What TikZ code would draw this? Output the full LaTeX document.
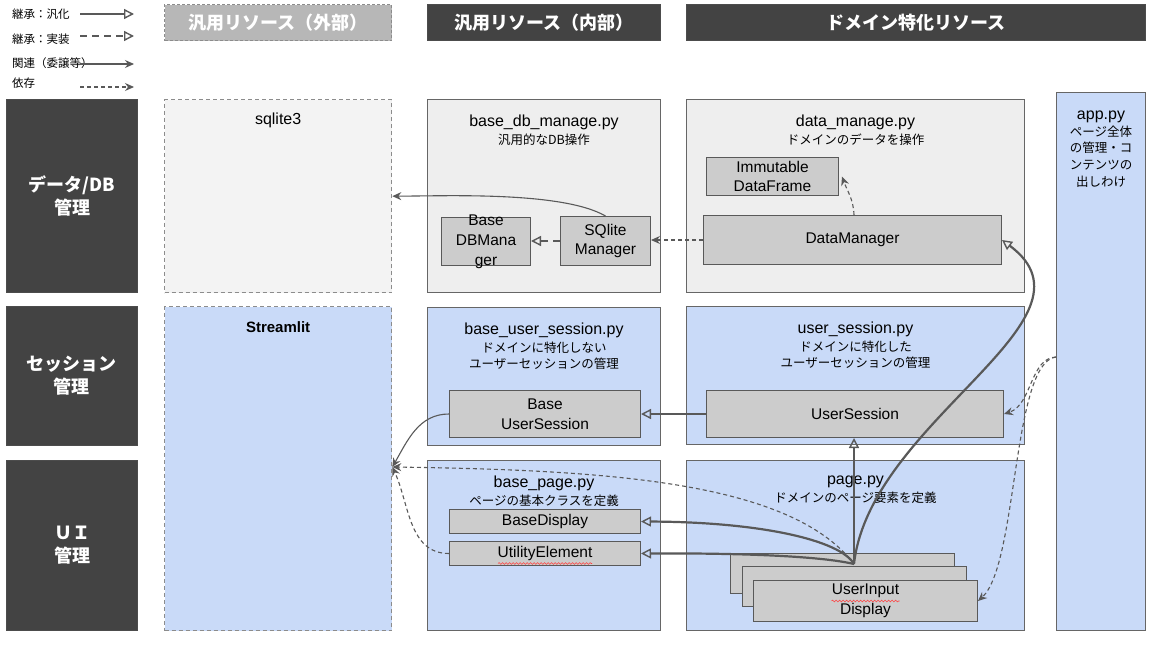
\documentclass[tikz,border=0pt]{standalone}
\usepackage{fontspec}
\setmainfont{Liberation Sans}
\newfontfamily\jp{Noto Sans CJK JP}
\usetikzlibrary{positioning,arrows.meta,decorations.pathmorphing}
\definecolor{darkhd}{HTML}{434343}
\definecolor{exthd}{HTML}{B7B7B7}
\definecolor{extline}{HTML}{8C8C8C}
\definecolor{extfill}{HTML}{F3F3F3}
\definecolor{pkgfill}{HTML}{EEEEEE}
\definecolor{uiblue}{HTML}{C9DAF8}
\definecolor{clsfill}{HTML}{CCCCCC}
\definecolor{boxline}{HTML}{666666}
\definecolor{wire}{HTML}{595959}
\tikzset{%
  box/.style={anchor=north west, inner sep=0pt, line width=1pt, draw=boxline},
  ext/.style={box, draw=extline, dash pattern=on 4pt off 3pt, line width=1.3pt},
  hd/.style={box, fill=darkhd, draw=gray!60!black, text=white, align=center,
    font=\jp\bfseries\fontsize{18}{23}\selectfont},
  cls/.style={box, fill=clsfill, draw=wire, align=center, inner sep=1pt,
    font=\fontsize{15.5}{19.5}\selectfont},
  clstxt/.style={align=center, inner sep=0pt, font=\fontsize{15.5}{20}\selectfont},
  ttl/.style={inner sep=0pt, font=\fontsize{16}{19}\selectfont},
  sub/.style={inner sep=0pt, align=center, font=\jp\fontsize{12.5}{16.5}\selectfont},
  gen/.style={draw=wire, line width=2.2pt,
    -{Triangle[open,length=10pt,width=10pt,line width=1.4pt]}},
  impl/.style={gen, dash pattern=on 7pt off 5pt},
  assoc/.style={draw=wire, line width=1.1pt, -{Stealth[length=9pt,width=8pt,inset=3pt]}},
  dep/.style={assoc, dash pattern=on 4pt off 3pt},
  squig/.style={draw=red!75, line width=.6pt, decorate,
    decoration={snake, amplitude=.9pt, segment length=3.5pt}},
}
\begin{document}
\begin{tikzpicture}[x=1pt,y=-1pt]
\fill[white] (0,0) rectangle (1160,645);
\useasboundingbox (0,0) rectangle (1160,645);
% legend
\foreach \k/\ty/\ay/\t in {gen/14/14/継承：汎化, impl/39/36/継承：実装,
  assoc/63/64/関連（委譲等）, dep/83/87/依存}{
  \node[anchor=west, inner sep=0pt, font=\jp\fontsize{11.5}{13}\selectfont] (lg-\k) at (12,\ty) {\t};
  \coordinate (lg-\k-a) at (80,\ay);
  \coordinate (lg-\k-b) at (134,\ay);
  \draw[\k] (lg-\k-a) -- (lg-\k-b);
}
% column and row headers
\node[hd, fill=exthd, draw=extline, dash pattern=on 3pt off 2pt, minimum width=227, minimum height=36] (colExt) at (164,4) {汎用リソース（外部）};
\node[hd, minimum width=233, minimum height=36] (colInt) at (427,4) {汎用リソース（内部）};
\node[hd, minimum width=459, minimum height=36] (colDom) at (686,4) {ドメイン特化リソース};
\node[hd, minimum width=131, minimum height=193] (rowDB) at (6,99) {データ/DB\\管理};
\node[hd, minimum width=131, minimum height=139] (rowSes) at (6,306) {セッション\\管理};
\node[hd, minimum width=131, minimum height=170] (rowUI) at (6,460) {ＵＩ\\管理};
% containers
\node[ext, fill=extfill, minimum width=227, minimum height=193] (extDB) at (164,99) {};
\node[ext, fill=uiblue, minimum width=227, minimum height=324] (extST) at (164,306) {};
\node[box, fill=pkgfill, minimum width=233, minimum height=193] (pkgBaseDB) at (427,99) {};
\node[box, fill=pkgfill, minimum width=338, minimum height=193] (pkgData) at (686,99) {};
\node[box, fill=uiblue, minimum width=233, minimum height=138] (pkgBaseSes) at (427,307) {};
\node[box, fill=uiblue, minimum width=338, minimum height=138] (pkgSes) at (686,306) {};
\node[box, fill=uiblue, minimum width=233, minimum height=170] (pkgBasePage) at (427,460) {};
\node[box, fill=uiblue, minimum width=338, minimum height=170] (pkgPage) at (686,460) {};
\node[box, fill=uiblue, minimum width=89, minimum height=538] (pkgApp) at (1056,92) {};
% titles
\node[ttl, below=14pt of extDB.north] (extDB-t) {sqlite3};
\node[ttl, font=\bfseries\fontsize{15}{18}\selectfont, below=15pt of extST.north] (extST-t) {Streamlit};
\foreach \p/\m/\s in {pkgBaseDB/base\_db\_manage.py/汎用的なDB操作,
  pkgData/data\_manage.py/ドメインのデータを操作,
  pkgBaseSes/base\_user\_session.py/ドメインに特化しない\\ユーザーセッションの管理,
  pkgSes/user\_session.py/ドメインに特化した\\ユーザーセッションの管理,
  pkgBasePage/base\_page.py/ページの基本クラスを定義,
  pkgPage/page.py/ドメインのページ要素を定義}{
  \node[ttl, below=16pt of \p.north] (\p-t) {\m};
  \node[sub, below=3pt of \p-t] (\p-s) {\s};
}
\node[ttl, below=19pt of pkgApp.north] (pkgApp-t) {app.py};
\node[sub, font=\jp\fontsize{12.5}{16.7}\selectfont, below=2pt of pkgApp-t] (pkgApp-s) {ページ全体\\の管理・コ\\ンテンツの\\出しわけ};
% classes
\node[cls, minimum width=89, minimum height=48] (baseDBM) at (441,217) {};
\node[clstxt] (baseDBM-l) at (baseDBM.center) {Base\\DBMana\\ger};
\node[cls, minimum width=90, minimum height=49] (sqliteM) at (560,216) {SQlite\\Manager};
\node[cls, minimum width=132, minimum height=38] (immDF) at (706,157) {Immutable\\DataFrame};
\node[cls, minimum width=298, minimum height=49] (dataM) at (703,215) {DataManager};
\node[cls, minimum width=191, minimum height=47] (baseUS) at (449,390) {Base\\UserSession};
\node[cls, minimum width=297, minimum height=47] (userS) at (706,390) {UserSession};
\node[cls, minimum width=191, minimum height=24] (baseDisp) at (449,509) {BaseDisplay};
\node[cls, minimum width=191, minimum height=24] (utilEl) at (449,541) {UtilityElement};
\foreach \n/\x/\y in {stkA/730/553, stkB/742/566}
  \node[cls, minimum width=224, minimum height=40] (\n) at (\x,\y) {};
\node[cls, minimum width=224, minimum height=41] (uiDisp) at (753,580) {UserInput\\Display};
\draw[squig] ([xshift=-47pt,yshift=-10pt]utilEl.center) -- ([xshift=47pt,yshift=-10pt]utilEl.center);
\draw[squig] ([xshift=-34pt]uiDisp.center) -- ([xshift=34pt]uiDisp.center);
% connectors
\coordinate (hub) at (854,564);
\coordinate (stIn) at (extST.east |- 0,467);
\coordinate (appOut) at (pkgApp.west |- 0,357);
\draw[impl] (sqliteM.west) -- (sqliteM.west -| baseDBM.east);
\draw[dep] (dataM.west) -- (dataM.west -| sqliteM.east);
\draw[dep] (dataM.north -| hub) to[out=92,in=-70] ([xshift=3pt]immDF.east);
\draw[assoc] (sqliteM.north) to[out=150,in=0,looseness=.6] (extDB.east);
\draw[gen] (userS.west) -- (userS.west -| baseUS.east);
\draw[gen] (hub) -- (hub |- userS.south);
\draw[gen] (hub) .. controls (870,420) and (1110,320) .. (dataM.east);
\draw[gen] (hub) .. controls (840,540) and (760,522) .. (baseDisp.east);
\draw[gen] (hub) .. controls (820,556) and (740,553) .. (utilEl.east);
\draw[dep] (hub) .. controls (790,480) and (600,470) .. (stIn);
\draw[dep] (utilEl.west) to[out=180,in=-65] (stIn);
\draw[assoc] (baseUS.west) to[out=180,in=60] (stIn);
\draw[dep] (appOut) .. controls (1030,358) and (1032,405) .. (userS.east);
\draw[dep] (appOut) .. controls (1012,362) and (1018,565) .. (uiDisp.east);
\end{tikzpicture}
\end{document}
